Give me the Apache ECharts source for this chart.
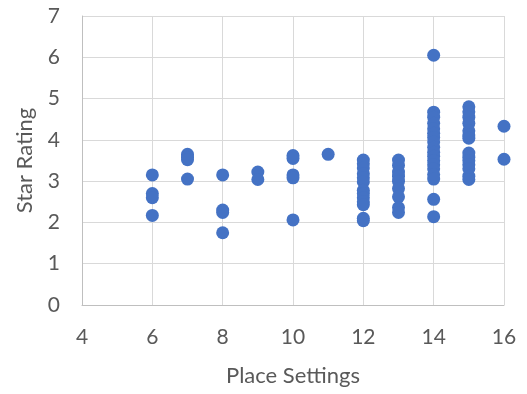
<!DOCTYPE html>
<html>
<head>
<meta charset="utf-8">
<script src="https://cdn.jsdelivr.net/npm/echarts@6/dist/echarts.min.js"></script>
<style>
  html, body { margin: 0; padding: 0; background: #fff; }
  #chart { width: 527px; height: 394px; }
</style>
</head>
<body>
<div id="chart"></div>
<script>
// Star rating of each model, grouped by number of place settings
const placeSettings = [6, 7, 8, 9, 10, 11, 12, 13, 14, 15, 16];
const ratingsBySetting = [
  [3.15, 2.7, 2.6, 2.17],
  [3.65, 3.58, 3.52, 3.05],
  [3.15, 2.3, 2.24, 1.75],
  [3.22, 3.04],
  [3.62, 3.55, 3.15, 3.08, 2.06],
  [3.65],
  [3.51, 3.42, 3.32, 3.18, 3.08, 2.98, 2.78, 2.7, 2.6, 2.5, 2.43, 2.1, 2.04],
  [3.51, 3.38, 3.22, 3.12, 3.0, 2.82, 2.62, 2.36, 2.24],
  [6.05, 4.67, 4.55, 4.4, 4.27, 4.16, 4.06, 3.95, 3.82, 3.7, 3.6, 3.5, 3.4, 3.3, 3.16, 3.05, 2.56, 2.14],
  [4.8, 4.68, 4.55, 4.4, 4.22, 4.12, 4.04, 3.68, 3.58, 3.5, 3.4, 3.3, 3.12, 3.04],
  [4.33, 3.53]
];
const xTicks = { min: 4, max: 16, step: 2 };
const yTicks = { min: 0, max: 7, step: 1 };

const points = [];
placeSettings.forEach((s, i) => {
  ratingsBySetting[i].forEach(r => points.push([s, r]));
});

const labelColor = '#595959';
const gridColor = '#d9d9d9';
const font = 'Lato, "Open Sans", sans-serif';

const chart = echarts.init(document.getElementById('chart'));
chart.setOption({
  animation: false,
  grid: { left: 82, right: 23, top: 16, bottom: 89 },
  xAxis: {
    type: 'value',
    min: xTicks.min, max: xTicks.max, interval: xTicks.step,
    name: 'Place Settings',
    nameLocation: 'middle',
    nameGap: 60,
    nameTextStyle: { color: labelColor, fontSize: 22, fontFamily: font },
    axisLine: { show: true, lineStyle: { color: '#bfbfbf', width: 1 } },
    axisTick: { show: false },
    axisLabel: { color: labelColor, fontSize: 21, fontFamily: font, margin: 22 },
    splitLine: { show: true, lineStyle: { color: gridColor, width: 1 } }
  },
  yAxis: {
    type: 'value',
    min: yTicks.min, max: yTicks.max, interval: yTicks.step,
    name: 'Star Rating',
    nameLocation: 'middle',
    nameGap: 46,
    nameTextStyle: { color: labelColor, fontSize: 22, fontFamily: font },
    axisLine: { show: true, lineStyle: { color: '#bfbfbf', width: 1 } },
    axisTick: { show: false },
    axisLabel: { color: labelColor, fontSize: 21, fontFamily: font, margin: 22 },
    splitLine: { show: true, lineStyle: { color: gridColor, width: 1 } }
  },
  series: [{
    type: 'scatter',
    data: points,
    symbol: 'circle',
    symbolSize: 13,
    itemStyle: { color: '#4472c4', opacity: 1 }
  }]
});
</script>
</body>
</html>
